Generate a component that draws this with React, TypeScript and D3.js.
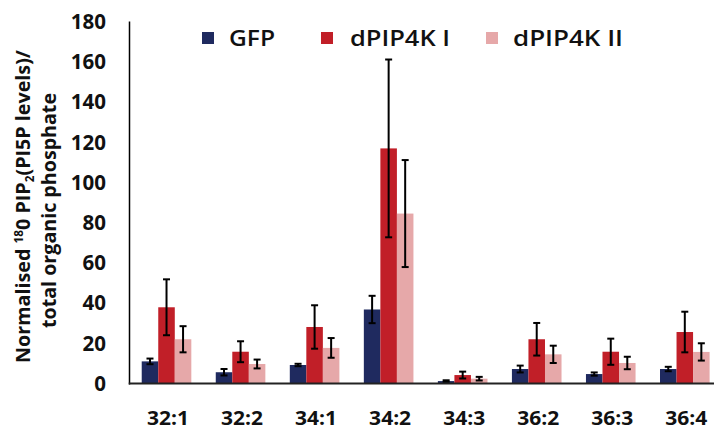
import React from "react";
import * as d3 from "d3";

const categories = ["32:1", "32:2", "34:1", "34:2", "34:3", "36:2", "36:3", "36:4"];
const seriesNames = ["GFP", "dPIP4K I", "dPIP4K II"];
const seriesColors = ["#1f2a5f", "#c11f28", "#e6a8a9"];

const gfpValues = [11, 5.6, 9.2, 36.8, 1.2, 7.2, 4.7, 7.2];
const gfpErrors = [1.4, 1.6, 0.6, 6.8, 0.4, 1.7, 0.8, 1.1];
const pip4kIValues = [37.9, 15.8, 28.1, 116.9, 4.2, 22, 15.8, 25.6];
const pip4kIErrors = [13.9, 5.2, 10.8, 44.2, 1.7, 8.1, 6.5, 10.1];
const pip4kIIValues = [22, 9.7, 17.7, 84.5, 2.4, 14.5, 10.2, 15.7];
const pip4kIIErrors = [6.5, 2.2, 4.9, 26.6, 0.9, 4.3, 3.1, 4.3];

const yTicks = [0, 20, 40, 60, 80, 100, 120, 140, 160, 180];

const WIDTH = 714;
const HEIGHT = 430;
const FONT = "'Open Sans', 'Noto Sans', sans-serif";

export default function App() {
  const values = [gfpValues, pip4kIValues, pip4kIIValues];
  const errors = [gfpErrors, pip4kIErrors, pip4kIIErrors];

  const left = 129.5;
  const step = 74.04;
  const x0 = d3
    .scaleBand<string>()
    .domain(categories)
    .range([left, left + step * categories.length])
    .padding(0);
  const groupWidth = 49.6;
  const groupOffset = (x0.bandwidth() - groupWidth) / 2;
  const x1 = d3
    .scaleBand<string>()
    .domain(seriesNames)
    .range([groupOffset, groupOffset + groupWidth])
    .padding(0);
  const y = d3.scaleLinear().domain([0, 180]).range([383.5, 21.5]);

  const legendItems = [
    { sq: 202, tx: 229, w: 46 },
    { sq: 321, tx: 350, w: 100 },
    { sq: 486, tx: 513, w: 110 },
  ];

  return (
    <svg
      width={WIDTH}
      height={HEIGHT}
      style={{ position: "absolute", left: 0, top: 0, background: "#fff" }}
      fontFamily={FONT}
    >
      {/* bars and error bars */}
      {categories.map((cat, ci) => (
        <g key={cat} transform={`translate(${x0(cat)},0)`}>
          {seriesNames.map((s, si) => {
            const v = values[si][ci];
            const e = errors[si][ci];
            const bx = x1(s)!;
            const bw = x1.bandwidth();
            const cx = bx + bw / 2;
            const hi = y(v + e);
            const lo = y(Math.max(0, v - e));
            return (
              <g key={s}>
                <rect x={bx} y={y(v)} width={bw} height={y(0) - y(v)} fill={seriesColors[si]} />
                <line x1={cx} x2={cx} y1={hi} y2={lo} stroke="#000" strokeWidth={2} />
                <line x1={cx - 3.5} x2={cx + 3.5} y1={hi} y2={hi} stroke="#000" strokeWidth={2} />
                <line x1={cx - 3.5} x2={cx + 3.5} y1={lo} y2={lo} stroke="#000" strokeWidth={2} />
              </g>
            );
          })}
        </g>
      ))}

      {/* axes */}
      <line x1={left} x2={left} y1={y(180)} y2={y(0) + 1} stroke="#000" strokeWidth={1.5} />
      <line x1={left - 0.75} x2={WIDTH} y1={y(0)} y2={y(0)} stroke="#222" strokeWidth={2} />

      {/* y tick labels */}
      {yTicks.map((t) => (
        <text key={t} x={106} y={y(t)} dy="0.36em" textAnchor="end" fontSize={20.5} fontWeight={700} fill="#111">
          {t}
        </text>
      ))}

      {/* x category labels */}
      {categories.map((cat) => (
        <text
          key={cat}
          x={x0(cat)! + x0.bandwidth() / 2 + 1.5}
          y={425}
          textAnchor="middle"
          fontSize={20}
          fontWeight={700}
          fill="#111"
          textLength={42}
          lengthAdjust="spacingAndGlyphs"
        >
          {cat}
        </text>
      ))}

      {/* y axis title */}
      <g transform="translate(29.5,206.5) rotate(-90)">
        <text
          textAnchor="middle"
          fontSize={20}
          fontWeight={700}
          fill="#111"
          textLength={313}
          lengthAdjust="spacingAndGlyphs"
        >
          Normalised <tspan fontSize={12} dy={-7}>18</tspan>
          <tspan dy={7}>0 PIP</tspan>
          <tspan fontSize={12} dy={4}>2</tspan>
          <tspan dy={-4}>(PI5P levels)/</tspan>
        </text>
      </g>
      <g transform="translate(55.5,210.5) rotate(-90)">
        <text
          textAnchor="middle"
          fontSize={20}
          fontWeight={700}
          fill="#111"
          textLength={235}
          lengthAdjust="spacingAndGlyphs"
        >
          total organic phosphate
        </text>
      </g>

      {/* legend */}
      {seriesNames.map((s, i) => (
        <g key={s}>
          <rect x={legendItems[i].sq} y={32} width={12} height={12} fill={seriesColors[i]} />
          <text
            x={legendItems[i].tx}
            y={45.5}
            fontSize={22}
            fontWeight={600}
            fill="#111"
            textLength={legendItems[i].w}
            lengthAdjust="spacingAndGlyphs"
          >
            {s}
          </text>
        </g>
      ))}
    </svg>
  );
}
